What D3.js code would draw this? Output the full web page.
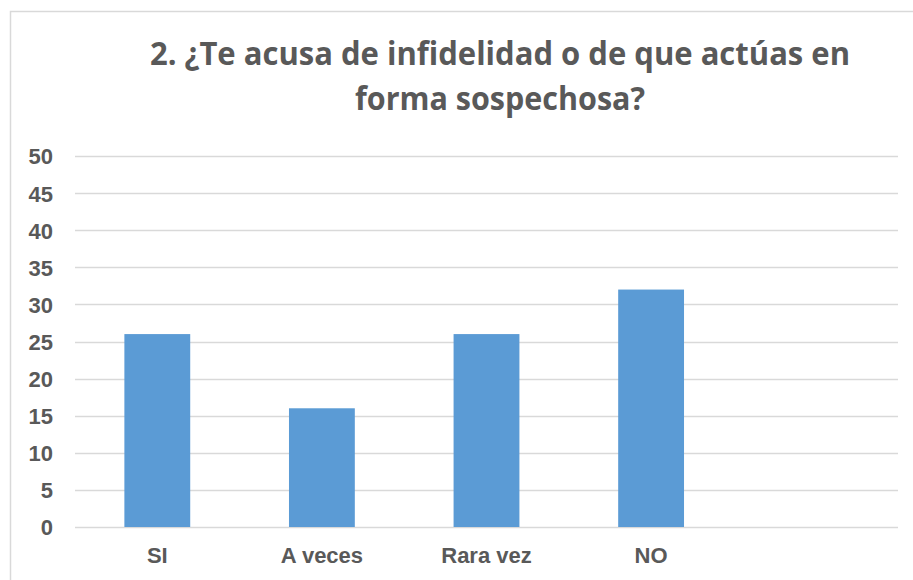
<!DOCTYPE html>
<html><head><meta charset="utf-8">
<script src="https://cdn.jsdelivr.net/npm/d3@7"></script>
<style>body{margin:0;background:#fff;}svg{display:block;}</style>
</head><body>
<svg id="c" width="913" height="580"></svg>
<script>
const categories = ["SI", "A veces", "Rara vez", "NO", ""];
const values = [26, 16, 26, 32, null];
const yTicks = [0, 5, 10, 15, 20, 25, 30, 35, 40, 45, 50];
const titleLines = ["2. ¿Te acusa de infidelidad o de que actúas en", "forma sospechosa?"];

const svg = d3.select("#c");
const W = 913, H = 580;
const m = {left: 75, right: 15, top: 156, bottom: 53};

svg.append("rect").attr("x", 10.5).attr("y", 11.5).attr("width", W + 10).attr("height", H + 10)
  .attr("fill", "#fff").attr("stroke", "#d9d9d9").attr("stroke-width", 1.5);

const x = d3.scaleBand().domain(d3.range(categories.length)).range([m.left, W - m.right])
  .paddingInner(0.6).paddingOuter(0.3);
const y = d3.scaleLinear().domain([0, 50]).range([H - m.bottom, m.top]);

svg.append("g").selectAll("line").data(yTicks).enter().append("line")
  .attr("x1", m.left).attr("x2", W - m.right)
  .attr("y1", d => Math.round(y(d)) + 0.5).attr("y2", d => Math.round(y(d)) + 0.5)
  .attr("stroke", "#d9d9d9").attr("stroke-width", 1.5);

const axisFont = sel => sel.attr("font-family", "Liberation Sans, Arial, sans-serif")
  .attr("font-size", 22).attr("font-weight", "bold").attr("fill", "#595959");

const yAxis = d3.axisLeft(y).tickValues(yTicks).tickSize(0).tickPadding(0);
const ya = svg.append("g").attr("transform", "translate(53,0)").call(yAxis);
ya.select(".domain").remove();
ya.selectAll("text").call(axisFont).attr("dy", "0.36em");

const bars = categories.map((c, i) => ({i, v: values[i]})).filter(d => d.v != null);
svg.selectAll("rect.bar").data(bars).enter().append("rect").attr("class", "bar")
  .attr("x", d => x(d.i)).attr("width", x.bandwidth())
  .attr("y", d => y(d.v)).attr("height", d => y(0) - y(d.v))
  .attr("fill", "#5b9bd5");

const xAxis = d3.axisBottom(x).tickFormat(i => categories[i]).tickSize(0).tickPadding(0);
const xa = svg.append("g").attr("transform", `translate(0,${H - m.bottom})`).call(xAxis);
xa.select(".domain").remove();
xa.selectAll("text").call(axisFont).attr("dy", 0).attr("y", 36);

svg.selectAll("text.title").data(titleLines).enter().append("text").attr("class", "title")
  .attr("x", 500).attr("y", (d, i) => 65 + i * 45).attr("text-anchor", "middle")
  .attr("font-family", "Open Sans, sans-serif").attr("font-weight", "bold").attr("font-size", 32)
  .attr("fill", "#595959")
  .attr("textLength", (d, i) => i === 0 ? 700 : 290).attr("lengthAdjust", "spacingAndGlyphs")
  .text(d => d);
</script>
</body></html>
